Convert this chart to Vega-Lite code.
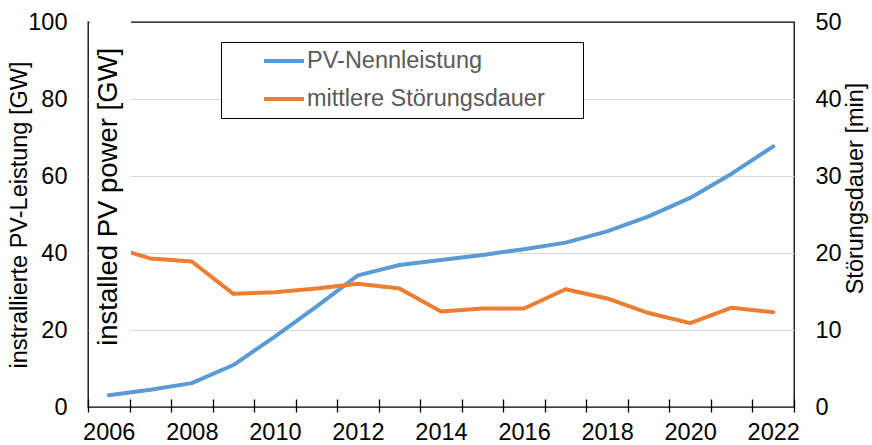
{
  "$schema": "https://vega.github.io/schema/vega-lite/v6.json",
  "width": 706,
  "height": 385,
  "autosize": {"type": "none"},
  "padding": {"left": 88, "top": 22, "right": 78, "bottom": 38},
  "config": {
    "font": "Liberation Sans",
    "view": {"stroke": "#000000", "strokeWidth": 1.3},
    "axis": {"labelColor": "#000000", "labelFontSize": 23.5, "titleFontWeight": "normal", "titleColor": "#000000", "titleFontSize": 23.5}
  },
  "data": {"values": [
    {"year": "2006", "series": "PV-Nennleistung", "value": 3.05},
    {"year": "2007", "series": "PV-Nennleistung", "value": 4.5},
    {"year": "2008", "series": "PV-Nennleistung", "value": 6.2},
    {"year": "2009", "series": "PV-Nennleistung", "value": 10.9},
    {"year": "2010", "series": "PV-Nennleistung", "value": 18.3},
    {"year": "2011", "series": "PV-Nennleistung", "value": 26.1},
    {"year": "2012", "series": "PV-Nennleistung", "value": 34.2},
    {"year": "2013", "series": "PV-Nennleistung", "value": 36.9},
    {"year": "2014", "series": "PV-Nennleistung", "value": 38.2},
    {"year": "2015", "series": "PV-Nennleistung", "value": 39.5},
    {"year": "2016", "series": "PV-Nennleistung", "value": 41.0},
    {"year": "2017", "series": "PV-Nennleistung", "value": 42.7},
    {"year": "2018", "series": "PV-Nennleistung", "value": 45.6},
    {"year": "2019", "series": "PV-Nennleistung", "value": 49.5},
    {"year": "2020", "series": "PV-Nennleistung", "value": 54.3},
    {"year": "2021", "series": "PV-Nennleistung", "value": 60.6},
    {"year": "2022", "series": "PV-Nennleistung", "value": 67.7},
    {"year": "2006", "series": "mittlere Störungsdauer", "value": 20.9},
    {"year": "2007", "series": "mittlere Störungsdauer", "value": 19.3},
    {"year": "2008", "series": "mittlere Störungsdauer", "value": 18.9},
    {"year": "2009", "series": "mittlere Störungsdauer", "value": 14.7},
    {"year": "2010", "series": "mittlere Störungsdauer", "value": 14.9},
    {"year": "2011", "series": "mittlere Störungsdauer", "value": 15.4},
    {"year": "2012", "series": "mittlere Störungsdauer", "value": 16.0},
    {"year": "2013", "series": "mittlere Störungsdauer", "value": 15.4},
    {"year": "2014", "series": "mittlere Störungsdauer", "value": 12.4},
    {"year": "2015", "series": "mittlere Störungsdauer", "value": 12.8},
    {"year": "2016", "series": "mittlere Störungsdauer", "value": 12.8},
    {"year": "2017", "series": "mittlere Störungsdauer", "value": 15.3},
    {"year": "2018", "series": "mittlere Störungsdauer", "value": 14.1},
    {"year": "2019", "series": "mittlere Störungsdauer", "value": 12.2},
    {"year": "2020", "series": "mittlere Störungsdauer", "value": 10.9},
    {"year": "2021", "series": "mittlere Störungsdauer", "value": 12.9},
    {"year": "2022", "series": "mittlere Störungsdauer", "value": 12.3}
  ]},
  "encoding": {
    "x": {
      "field": "year", "type": "ordinal", "bandPosition": 0.5,
      "scale": {"type": "band", "paddingInner": 0, "paddingOuter": 0},
      "axis": {
        "title": null, "domain": false, "offset": -8, "tickSize": 13, "tickColor": "#000000", "tickWidth": 1.3,
        "tickBand": "extent", "labelPadding": 8, "labelAngle": 0, "labelOverlap": false, "labelFlush": false,
        "labelExpr": "toNumber(datum.label) % 2 == 0 ? datum.label : ''", "grid": false
      }
    }
  },
  "layer": [
    {
      "transform": [{"filter": "datum.series === 'PV-Nennleistung'"}],
      "mark": {"type": "line", "strokeWidth": 4, "strokeCap": "round", "strokeJoin": "round"},
      "encoding": {
        "y": {
          "field": "value", "type": "quantitative", "scale": {"domain": [0, 100]},
          "axis": {
            "orient": "left", "values": [0, 20, 40, 60, 80, 100], "ticks": false, "domain": false, "labelPadding": 21,
            "grid": true, "gridColor": {"condition": {"test": "datum.value == 0 || datum.value == 100", "value": "transparent"}, "value": "#d9d9d9"},
            "gridWidth": 1.2, "title": "instrallierte PV-Leistung [GW]", "titlePadding": -4
          }
        },
        "color": {
          "field": "series", "type": "nominal",
          "scale": {"domain": ["PV-Nennleistung", "mittlere Störungsdauer"], "range": ["#5B9BD5", "#ED7D31"]},
          "legend": {
            "orient": "none", "legendX": 133, "legendY": 20, "title": " ", "titleOrient": "right", "titleFontSize": 1, "titlePadding": 31,
            "symbolType": "M-2,0H2", "symbolSize": 400, "symbolStrokeWidth": 4, "symbolFillColor": "transparent",
            "labelFontSize": 23.5, "labelColor": "#595959", "labelOffset": 11, "symbolOffset": 44, "labelLimit": 500,
            "padding": 7, "rowPadding": 14, "strokeColor": "#000000", "fillColor": "#ffffff"
          }
        }
      }
    },
    {
      "transform": [{"filter": "datum.series === 'mittlere Störungsdauer'"}],
      "mark": {"type": "line", "strokeWidth": 4, "strokeCap": "round", "strokeJoin": "round"},
      "encoding": {
        "y": {
          "field": "value", "type": "quantitative", "scale": {"domain": [0, 50]},
          "axis": {
            "orient": "right", "values": [0, 10, 20, 30, 40, 50], "ticks": false, "domain": false, "labelPadding": 21, "grid": false,
            "title": "Störungsdauer [min]", "titleAngle": 270, "titleX": 49, "titleY": 166, "titleAlign": "center", "titleBaseline": "top"
          }
        },
        "color": {"field": "series", "type": "nominal"}
      }
    },
    {
      "data": {"values": [{}]},
      "layer": [
        {
          "mark": {"type": "rect", "fill": "#ffffff", "xOffset": 1.5, "x2Offset": 2, "y2Offset": -3},
          "encoding": {
            "x": {"datum": "2006"},
            "y": {"datum": 5, "scale": {"domain": [0, 100]}, "axis": null},
            "y2": {"datum": 100}
          }
        },
        {
          "mark": {"type": "text", "text": "installed PV power [GW]", "angle": 270, "fontSize": 27.5, "align": "center", "baseline": "middle", "color": "#000000"},
          "encoding": {
            "x": {"datum": "2006"},
            "y": {"datum": 54.6, "axis": null}
          }
        }
      ]
    }
  ],
  "resolve": {"scale": {"y": "independent"}}
}
